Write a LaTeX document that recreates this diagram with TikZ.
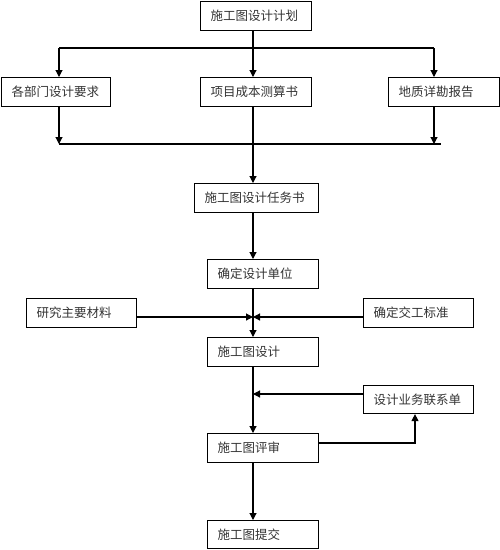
\documentclass[tikz,border=0pt]{standalone}
\usepackage{fontspec}
\newfontfamily\cjk{Noto Sans CJK SC}
\usepackage{tikz}
\usetikzlibrary{arrows.meta}

\begin{document}
\begin{tikzpicture}[x=1pt, y=-1pt,
    box/.style={draw, line width=1.1pt, anchor=north west, minimum height=29pt,
        inner xsep=10pt, inner ysep=0pt, align=left, text=black!80,
        font=\cjk\fontsize{12.5}{14}\selectfont},
    arr/.style={line width=1.1pt, -{Triangle[length=7pt,width=7pt]}},
    ln/.style={line width=1.1pt}]

\useasboundingbox (0,0) rectangle (500,550);

% top
\node[box, text width=91pt] (plan) at (200,1) {施工图设计计划};

\node[box, text width=89pt] (dept) at (1,77) {各部门设计要求};
\node[box, text width=91pt] (cost) at (200,77) {项目成本测算书};
\node[box, text width=91pt] (geo) at (388,77) {地质详勘报告};

\node[box, text width=104pt] (task) at (194,183) {施工图设计任务书};
\node[box, text width=91pt] (unit) at (207,259) {确定设计单位};

% sides
\node[box, text width=90pt] (mat) at (26,298) {研究主要材料};
\node[box, text width=90pt] (std) at (363,298) {确定交工标准};

\node[box, text width=91pt] (design) at (207,337) {施工图设计};
\node[box, text width=90pt, minimum height=28pt] (memo) at (363,385) {设计业务联系单};
\node[box, text width=91pt] (review) at (207,433) {施工图评审};
\node[box, text width=91pt, minimum height=28pt] (submit) at (207,520) {施工图提交};

\coordinate (split) at (253,48);
\coordinate (splitL) at (59,48);
\coordinate (splitR) at (434,48);
\coordinate (joinL) at (59,144);
\coordinate (joinR) at (441,144);
\coordinate (meet) at (253,317);
\coordinate (fb) at (253,394);
\coordinate (ret) at (415,443);

% split
\draw[ln] (plan.south -| split) -- (split);
\draw[ln] (splitL) -- (splitR);
\draw[arr] (splitL) -- (splitL |- dept.north);
\draw[arr] (split) -- (split |- cost.north);
\draw[arr] (splitR) -- (splitR |- geo.north);

% join
\draw[ln] (joinL) -- (joinR);
\draw[arr] (dept.south -| joinL) -- (joinL);
\draw[arr] (geo.south -| splitR) -- (splitR |- joinL);

% main line
\draw[arr] (cost.south -| split) -- (split |- task.north);
\draw[arr] (task.south -| split) -- (split |- unit.north);
\draw[arr] (unit.south -| split) -- (split |- design.north);
\draw[arr] (mat.east |- meet) -- (meet);
\draw[arr] (std.west |- meet) -- (meet);
\draw[arr] (design.south -| split) -- (split |- review.north);
\draw[arr] (memo.west |- fb) -- (fb);
\draw[arr] (review.east |- ret) -- (ret) -- (memo.south -| ret);
\draw[arr] (review.south -| split) -- (split |- submit.north);

\end{tikzpicture}
\end{document}
